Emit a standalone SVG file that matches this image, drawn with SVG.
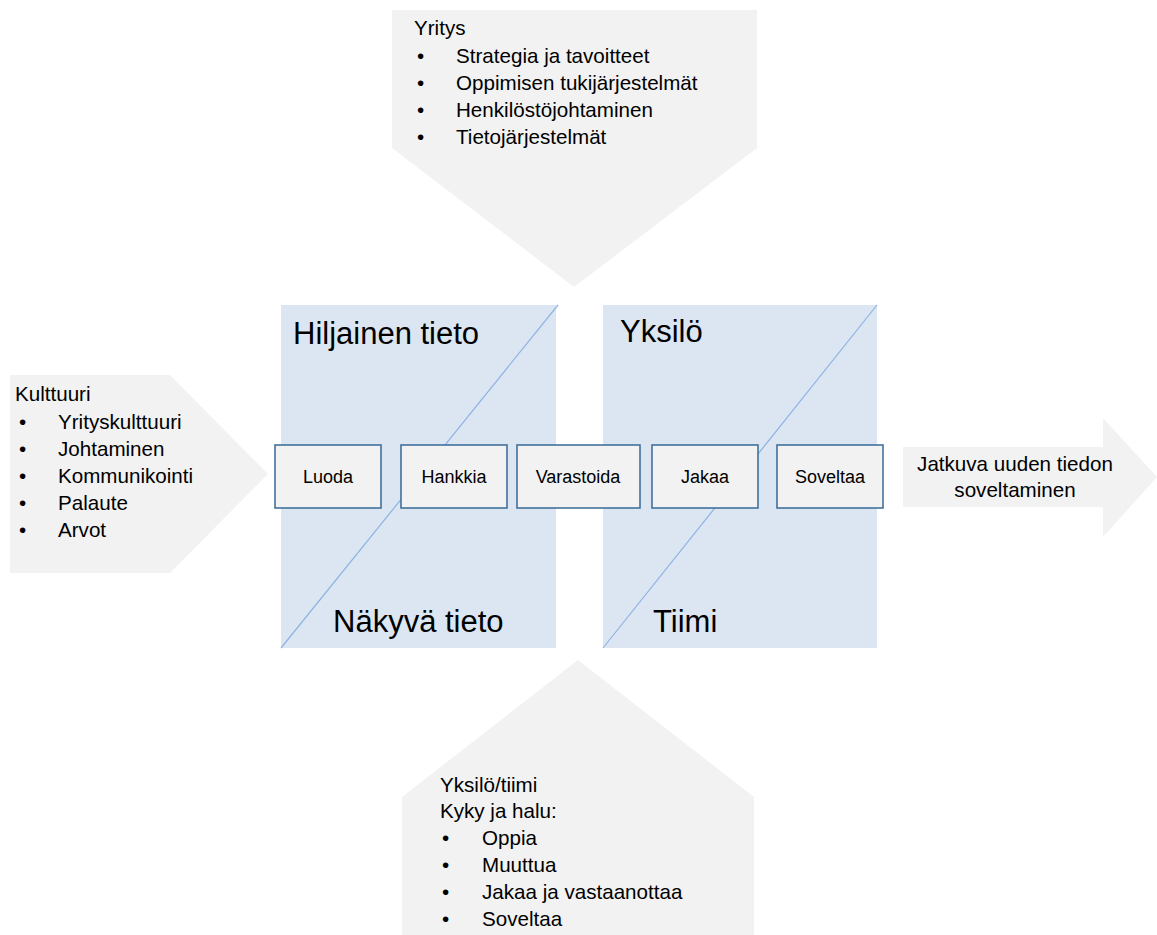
<svg xmlns="http://www.w3.org/2000/svg" width="1157" height="935" viewBox="0 0 1157 935">
  <style>
    .txt { font-family: "Liberation Sans", Arial, sans-serif; fill: #000; }
    .list { font-size: 20.6px; }
    .title { font-size: 31px; }
    .step { font-size: 18px; text-anchor: middle; }
    .shape { fill: #f2f2f2; }
    .panel { fill: #dce6f2; }
    .diag { stroke: #8db3e2; stroke-width: 1.2; fill: none; }
    .box { fill: #f2f2f2; stroke: #41719c; stroke-width: 1.6; }
  </style>

  <rect width="1157" height="935" fill="#ffffff"/>

  <!-- Company factors (arrow pointing down) -->
  <g id="yritys">
    <polygon class="shape" points="392,10 757,10 757,148 574,287 392,148"/>
    <text class="txt list" x="414" y="35">Yritys</text>
    <text class="txt list" x="417" y="63">•</text><text class="txt list" x="456" y="63">Strategia ja tavoitteet</text>
    <text class="txt list" x="417" y="90">•</text><text class="txt list" x="456" y="90">Oppimisen tukijärjestelmät</text>
    <text class="txt list" x="417" y="117">•</text><text class="txt list" x="456" y="117">Henkilöstöjohtaminen</text>
    <text class="txt list" x="417" y="144">•</text><text class="txt list" x="456" y="144">Tietojärjestelmät</text>
  </g>

  <!-- Culture factors (arrow pointing right) -->
  <g id="kulttuuri">
    <polygon class="shape" points="10,375 170,375 268,474 170,573 10,573"/>
    <text class="txt list" x="15" y="401">Kulttuuri</text>
    <text class="txt list" x="19" y="429">•</text><text class="txt list" x="58" y="429">Yrityskulttuuri</text>
    <text class="txt list" x="19" y="456">•</text><text class="txt list" x="58" y="456">Johtaminen</text>
    <text class="txt list" x="19" y="483">•</text><text class="txt list" x="58" y="483">Kommunikointi</text>
    <text class="txt list" x="19" y="510">•</text><text class="txt list" x="58" y="510">Palaute</text>
    <text class="txt list" x="19" y="537">•</text><text class="txt list" x="58" y="537">Arvot</text>
  </g>

  <!-- Knowledge panel: tacit / explicit -->
  <g id="tieto-paneeli">
    <rect class="panel" x="281" y="305" width="275" height="343"/>
    <line class="diag" x1="281" y1="648" x2="558" y2="305"/>
    <text class="txt title" x="293" y="344">Hiljainen tieto</text>
    <text class="txt title" x="333" y="632">Näkyvä tieto</text>
  </g>

  <!-- Actor panel: individual / team -->
  <g id="toimija-paneeli">
    <rect class="panel" x="603" y="305" width="274" height="343"/>
    <line class="diag" x1="603" y1="648" x2="877" y2="305"/>
    <text class="txt title" x="620" y="342">Yksilö</text>
    <text class="txt title" x="653" y="632">Tiimi</text>
  </g>

  <!-- Empty group: the process steps are not linked by connectors -->
  <g id="connectors"></g>

  <!-- Process steps -->
  <g id="luoda">
    <rect class="box" x="275" y="445" width="106" height="63"/>
    <text class="txt step" x="328" y="483">Luoda</text>
  </g>
  <g id="hankkia">
    <rect class="box" x="401" y="445" width="106" height="63"/>
    <text class="txt step" x="454" y="483">Hankkia</text>
  </g>
  <g id="varastoida">
    <rect class="box" x="517" y="445" width="123" height="63"/>
    <text class="txt step" x="578" y="483">Varastoida</text>
  </g>
  <g id="jakaa">
    <rect class="box" x="652" y="445" width="106" height="63"/>
    <text class="txt step" x="705" y="483">Jakaa</text>
  </g>
  <g id="soveltaa">
    <rect class="box" x="777" y="445" width="106" height="63"/>
    <text class="txt step" x="830" y="483">Soveltaa</text>
  </g>

  <!-- Outcome (arrow pointing right) -->
  <g id="tulos">
    <polygon class="shape" points="903,447 1103,447 1103,418 1157,477 1103,537 1103,507 903,507"/>
    <text class="txt list" x="1015" y="471" text-anchor="middle">Jatkuva uuden tiedon</text>
    <text class="txt list" x="1015" y="497" text-anchor="middle">soveltaminen</text>
  </g>

  <!-- Individual / team factors (arrow pointing up) -->
  <g id="yksilo-tiimi">
    <polygon class="shape" points="402,797 578,660 754,797 754,935 402,935"/>
    <text class="txt list" x="440" y="792">Yksilö/tiimi</text>
    <text class="txt list" x="440" y="818">Kyky ja halu:</text>
    <text class="txt list" x="442" y="845">•</text><text class="txt list" x="482" y="845">Oppia</text>
    <text class="txt list" x="442" y="872">•</text><text class="txt list" x="482" y="872">Muuttua</text>
    <text class="txt list" x="442" y="899">•</text><text class="txt list" x="482" y="899">Jakaa ja vastaanottaa</text>
    <text class="txt list" x="442" y="926">•</text><text class="txt list" x="482" y="926">Soveltaa</text>
  </g>
</svg>
